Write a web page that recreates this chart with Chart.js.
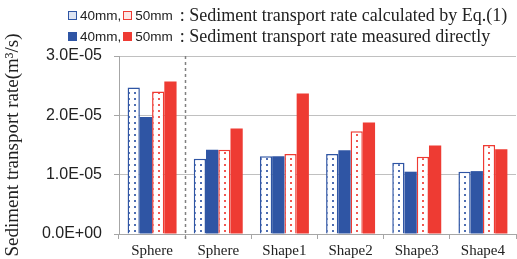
<!DOCTYPE html>
<html>
<head>
<meta charset="utf-8">
<script src="https://cdn.jsdelivr.net/npm/chart.js@4/dist/chart.umd.min.js"></script>
<style>
  body { margin: 0; background: #fff; }
  #wrap { position: relative; width: 517px; height: 259px; }
  .leg { position: absolute; left: 68px; height: 20px; white-space: nowrap; display: flex; align-items: center; }
  .box { width: 7px; height: 7px; display: inline-block; margin-right: 3px; }
  .mm { font-family: "Liberation Sans", Arial, sans-serif; font-size: 13.5px; color: #222; }
  .desc { font-family: "Liberation Serif", "Times New Roman", serif; font-size: 18px; color: #222; margin-left: 7px; }
</style>
</head>
<body>
<div id="wrap">
  <canvas id="chart" width="517" height="259"></canvas>
  <div class="leg" style="top:5px">
    <span class="box" style="border:1px solid #2F55A4;background:#dde4f2"></span><span class="mm">40mm,</span>
    <span class="box" style="border:1px solid #EE3B33;background:#fde6e5;margin-left:2px"></span><span class="mm">50mm</span>
    <span class="desc">: Sediment transport rate calculated by Eq.(1)</span>
  </div>
  <div class="leg" style="top:26px">
    <span class="box" style="background:#2F55A4;width:9px;height:9px"></span><span class="mm">40mm,</span>
    <span class="box" style="background:#EE3B33;width:9px;height:9px;margin-left:2px"></span><span class="mm">50mm</span>
    <span class="desc">: Sediment transport rate measured directly</span>
  </div>
</div>
<script>
var categories = ['Sphere', 'Sphere', 'Shape1', 'Shape2', 'Shape3', 'Shape4'];
var calc40 = [2.47e-5, 1.27e-5, 1.31e-5, 1.35e-5, 1.20e-5, 1.05e-5];
var meas40 = [1.97e-5, 1.42e-5, 1.31e-5, 1.41e-5, 1.05e-5, 1.06e-5];
var calc50 = [2.40e-5, 1.42e-5, 1.35e-5, 1.73e-5, 1.30e-5, 1.50e-5];
var meas50 = [2.57e-5, 1.78e-5, 2.37e-5, 1.88e-5, 1.49e-5, 1.43e-5];

var blue = '#2F55A4';
var red = '#EE3B33';

function dots(color) {
    var c = document.createElement('canvas');
    c.width = 6; c.height = 6;
    var x = c.getContext('2d');
    x.fillStyle = '#fff';
    x.fillRect(0, 0, 6, 6);
    x.fillStyle = color;
    x.globalAlpha = 0.85;
    x.fillRect(2, 2, 2, 2);
    return x.createPattern(c, 'repeat');
}

function sci(v) {
    var s = Number(v).toExponential(1).split('e');
    var e = parseInt(s[1], 10);
    var sign = e < 0 ? '-' : '+';
    e = Math.abs(e);
    return s[0] + 'E' + sign + (e < 10 ? '0' : '') + e;
}

// dashed separator between first and second group
var divider = {
    id: 'divider',
    afterDatasetsDraw: function(chart) {
        var xs = chart.scales.x, a = chart.chartArea, ctx = chart.ctx;
        var x = Math.round((xs.getPixelForTick(0) + xs.getPixelForTick(1)) / 2) + 0.5;
        ctx.save();
        ctx.strokeStyle = '#808080';
        ctx.lineWidth = 1.5;
        ctx.setLineDash([3, 3]);
        ctx.beginPath();
        ctx.moveTo(x, a.top);
        ctx.lineTo(x, a.bottom + 5);
        ctx.stroke();
        ctx.restore();
    }
};

var ctx = document.getElementById('chart');
new Chart(ctx, {
    type: 'bar',
    data: {
        labels: categories,
        datasets: [
            { label: '40mm calculated', data: calc40, backgroundColor: dots(blue), borderColor: blue, borderWidth: 1.5 },
            { label: '40mm measured', data: meas40, backgroundColor: blue, borderColor: blue, borderWidth: 0 },
            { label: '50mm calculated', data: calc50, backgroundColor: dots(red), borderColor: red, borderWidth: 1.5 },
            { label: '50mm measured', data: meas50, backgroundColor: red, borderColor: red, borderWidth: 0 }
        ]
    },
    options: {
        responsive: false,
        animation: false,
        events: [],
        layout: { padding: { top: 56, right: 1, left: 0, bottom: 0 } },
        datasets: { bar: { categoryPercentage: 0.74, barPercentage: 1.0 } },
        plugins: {
            legend: { display: false },
            tooltip: { enabled: false }
        },
        scales: {
            x: {
                grid: { offset: true, drawOnChartArea: false, drawTicks: true, tickLength: 5, color: '#a6a6a6' },
                border: { color: '#a6a6a6' },
                ticks: { color: '#222', padding: 3, font: { family: '"Liberation Serif", serif', size: 15 } },
                afterFit: function(s) { s.height = 25; }
            },
            y: {
                min: 0,
                max: 3e-5,
                ticks: {
                    stepSize: 1e-5,
                    color: '#222',
                    padding: 12,
                    font: { family: '"Liberation Sans", Arial, sans-serif', size: 16 },
                    callback: function(v) { return sci(v); }
                },
                grid: { color: '#c0c0c0', tickLength: 5, tickColor: '#a6a6a6' },
                border: { color: '#a6a6a6' },
                title: {
                    display: true,
                    text: 'Sediment transport rate(m³/s)',
                    color: '#222',
                    padding: { top: 2, bottom: 0 },
                    font: { family: '"Liberation Serif", serif', size: 19 }
                },
                afterFit: function(s) { s.width = 119; }
            }
        }
    },
    plugins: [divider]
});
</script>
</body>
</html>
